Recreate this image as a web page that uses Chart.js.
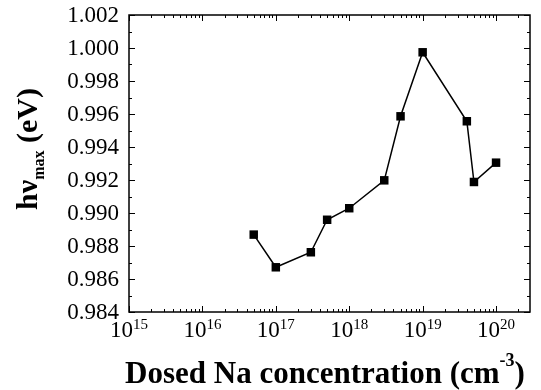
<!DOCTYPE html>
<html>
<head>
<meta charset="utf-8">
<script src="https://cdn.jsdelivr.net/npm/chart.js@4/dist/chart.umd.min.js"></script>
<style>
  html, body { margin: 0; padding: 0; background: #fff; }
  #wrap { width: 541px; height: 390px; }
</style>
</head>
<body>
<div id="wrap"><canvas id="chart" width="541" height="390"></canvas></div>
<script>
// Dosed Na concentration (cm^-3) and peak energy (eV)
const concentrations = [5e16, 1e17, 3e17, 5e17, 1e18, 3e18, 5e18, 1e19, 4e19, 5e19, 1e20];
const peakEnergy = [0.98869, 0.98671, 0.98762, 0.98959, 0.99029, 0.99198, 0.99586, 0.99974, 0.99556, 0.99188, 0.99305];

// tick labels
const xTickExponents = [15, 16, 17, 18, 19, 20];
const yTickValues = [0.984, 0.986, 0.988, 0.990, 0.992, 0.994, 0.996, 0.998, 1.000, 1.002];
const yMinorValues = [0.985, 0.987, 0.989, 0.991, 0.993, 0.995, 0.997, 0.999, 1.001];

const SERIF = "'Liberation Serif', 'Times New Roman', serif";

// frame, inward ticks, tick labels and axis titles
const framePlugin = {
  id: 'frame',
  afterDraw(chart) {
    const ctx = chart.ctx;
    const area = chart.chartArea;
    const xs = chart.scales.x;
    const ys = chart.scales.y;
    ctx.save();
    ctx.strokeStyle = '#000';
    ctx.fillStyle = '#000';

    // frame
    ctx.lineWidth = 1.5;
    ctx.strokeRect(area.left, area.top, area.right - area.left, area.bottom - area.top);

    // x ticks (major + minor), bottom and top
    ctx.lineWidth = 1;
    ctx.beginPath();
    xTickExponents.forEach(e => {
      for (let k = 1; k <= 9; k++) {
        const v = k * Math.pow(10, e);
        if (v > xs.max) break;
        const px = Math.round(xs.getPixelForValue(v)) + 0.5;
        const len = k === 1 ? 6 : 3;
        ctx.moveTo(px, area.bottom);
        ctx.lineTo(px, area.bottom - len);
        ctx.moveTo(px, area.top);
        ctx.lineTo(px, area.top + len);
      }
    });
    // y ticks, left and right
    yTickValues.concat(yMinorValues).forEach(v => {
      const py = Math.round(ys.getPixelForValue(v)) + 0.5;
      const len = yTickValues.includes(v) ? 6 : 3;
      ctx.moveTo(area.left, py);
      ctx.lineTo(area.left + len, py);
      ctx.moveTo(area.right, py);
      ctx.lineTo(area.right - len, py);
    });
    ctx.stroke();

    // y tick labels
    ctx.font = '23px ' + SERIF;
    ctx.textAlign = 'right';
    ctx.textBaseline = 'middle';
    yTickValues.forEach(v => {
      ctx.fillText(v.toFixed(3), area.left - 10, ys.getPixelForValue(v) + 1);
    });

    // x tick labels: 10^n
    ctx.textBaseline = 'alphabetic';
    ctx.textAlign = 'left';
    xTickExponents.forEach(e => {
      const px = xs.getPixelForValue(Math.pow(10, e));
      ctx.font = '23px ' + SERIF;
      const wBase = ctx.measureText('10').width;
      ctx.font = '15px ' + SERIF;
      const wExp = ctx.measureText(String(e)).width;
      const x0 = px - (wBase + wExp) / 2;
      ctx.font = '23px ' + SERIF;
      ctx.fillText('10', x0, 337);
      ctx.font = '15px ' + SERIF;
      ctx.fillText(String(e), x0 + wBase, 329);
    });

    // x axis title
    const tMain = 'Dosed Na concentration (cm';
    ctx.font = 'bold 31px ' + SERIF;
    const wMain = ctx.measureText(tMain).width;
    ctx.font = 'bold 18px ' + SERIF;
    const wSup = ctx.measureText('-3').width;
    ctx.font = 'bold 31px ' + SERIF;
    const wClose = ctx.measureText(')').width;
    let tx = 325 - (wMain + wSup + wClose) / 2;
    ctx.fillText(tMain, tx, 383);
    tx += wMain;
    ctx.font = 'bold 18px ' + SERIF;
    ctx.fillText('-3', tx, 366);
    tx += wSup;
    ctx.font = 'bold 31px ' + SERIF;
    ctx.fillText(')', tx, 383);

    // y axis title, rotated
    ctx.save();
    ctx.translate(37, 149);
    ctx.rotate(-Math.PI / 2);
    ctx.font = 'bold 30px ' + SERIF;
    const wHv = ctx.measureText('hν').width;
    ctx.font = 'bold 16px ' + SERIF;
    const wMax = ctx.measureText('max').width;
    ctx.font = 'bold 30px ' + SERIF;
    const wEv = ctx.measureText(' (eV)').width;
    let ty = -(wHv + wMax + wEv) / 2;
    ctx.fillText('hν', ty, 0);
    ty += wHv;
    ctx.font = 'bold 16px ' + SERIF;
    ctx.fillText('max', ty, 7);
    ty += wMax;
    ctx.font = 'bold 30px ' + SERIF;
    ctx.fillText(' (eV)', ty, 0);
    ctx.restore();

    ctx.restore();
  }
};

new Chart(document.getElementById('chart'), {
  type: 'line',
  data: {
    datasets: [{
      data: concentrations.map((c, i) => ({ x: c, y: peakEnergy[i] })),
      borderColor: '#000',
      backgroundColor: '#000',
      borderWidth: 1.5,
      pointStyle: 'rect',
      pointRadius: 6,
      pointBorderWidth: 0,
      tension: 0
    }]
  },
  options: {
    responsive: false,
    animation: false,
    layout: { padding: { left: 129, right: 11, top: 15, bottom: 78 } },
    plugins: { legend: { display: false }, tooltip: { enabled: false } },
    scales: {
      x: {
        type: 'logarithmic',
        display: false,
        min: 1e15,
        max: 2.9e20
      },
      y: {
        type: 'linear',
        display: false,
        min: 0.984,
        max: 1.002
      }
    }
  },
  plugins: [framePlugin]
});
</script>
</body>
</html>
